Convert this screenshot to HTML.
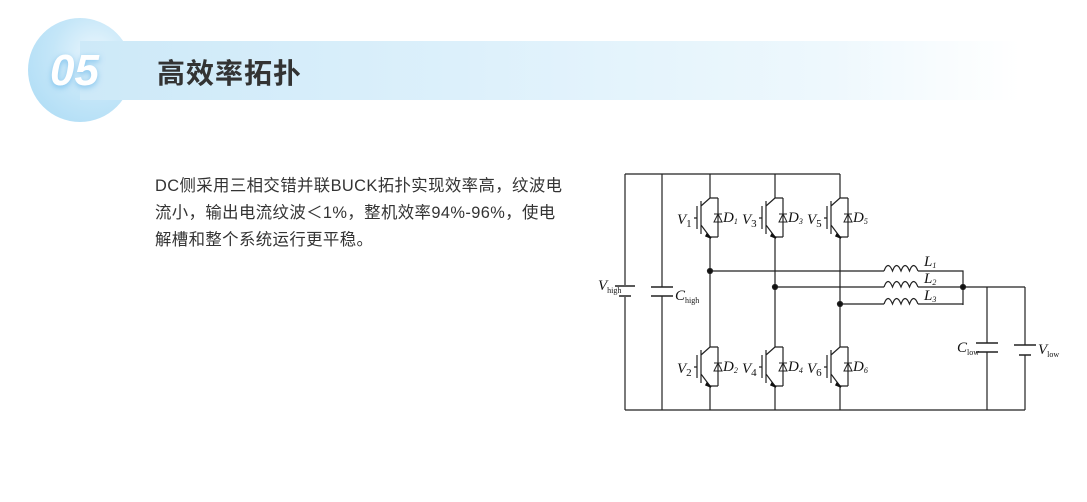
<!DOCTYPE html>
<html><head><meta charset="utf-8"><style>
body{margin:0;width:1087px;height:502px;background:#fff;position:relative;overflow:hidden;font-family:"Liberation Sans","Noto Sans CJK SC",sans-serif}
.circle{position:absolute;left:28px;top:18px;width:104px;height:104px;border-radius:50%;background:radial-gradient(circle at 65% 35%,#eaf6fd 0%,#c4e6f8 45%,#a9daf5 100%)}
.bar{position:absolute;left:80px;top:41px;width:940px;height:59px;background:linear-gradient(90deg,#cde9f8 0%,#dcf0fb 40%,#eef8fd 80%,rgba(255,255,255,0) 100%)}
.num{position:absolute;left:50px;top:46px;font:italic bold 44px "Liberation Sans",sans-serif;color:#fff;text-shadow:0 2px 6px rgba(80,170,230,.6)}
.title{position:absolute;left:157px;top:52px;font-size:28px;font-weight:bold;color:#333;letter-spacing:1px}
.text{position:absolute;left:155px;top:173px;font-size:16.4px;line-height:27px;color:#333;white-space:nowrap;letter-spacing:0.4px}
svg{position:absolute;left:0;top:0}
svg text{font-family:"Liberation Serif",serif;font-style:italic;fill:#111}
</style></head><body>
<div class="circle"></div><div class="bar"></div>
<div class="num">05</div>
<div class="title">高效率拓扑</div>
<div class="text">DC侧采用三相交错并联BUCK拓扑实现效率高，纹波电<br>流小，输出电流纹波＜1%，整机效率94%-96%，使电<br>解槽和整个系统运行更平稳。</div>
<svg width="1087" height="502" stroke="#222" stroke-width="1.2" fill="none">
<defs>
<g id="ig">
<path d="M0,0 H8 M0,0 L-9,8 M-9,3 V36 M-13,8 V31 M-13,20 H-16 M-9,27 L0,39 H8 M8,0 V39"/>
<path d="M-3,36 L1,40 L-4,38 Z" fill="#111" stroke="#111" stroke-width="1.5"/>
<path d="M4,24 L12,24 L8,16 Z M4,16 H12" stroke-width="1"/>
</g>
</defs>
<path d="M625,174 H840 M625,410 H1025 M625,174 V285 M625,297 V410 M662,174 V287 M662,296 V410"/>
<path d="M615,286 H635 M619,296 H631" stroke-width="1.5"/>
<path d="M651,287 H673 M651,296 H673" stroke-width="1.5"/>
<path d="M710,174 V198 M710,237 V347 M710,386 V410"/>
<path d="M775,174 V198 M775,237 V347 M775,386 V410"/>
<path d="M840,174 V198 M840,237 V347 M840,386 V410"/>
<use href="#ig" x="710" y="198"/><use href="#ig" x="775" y="198"/><use href="#ig" x="840" y="198"/>
<use href="#ig" x="710" y="347"/><use href="#ig" x="775" y="347"/><use href="#ig" x="840" y="347"/>
<path d="M710,271 H884 M918,271 H963 V305 M775,287 H884 M918,287 H1025 M840,304 H884 M918,304 H963"/>
<path d="M884,271 q4,-11 8.5,0 q4,-11 8.5,0 q4,-11 8.5,0 q4,-11 8.5,0 M884,287 q4,-11 8.5,0 q4,-11 8.5,0 q4,-11 8.5,0 q4,-11 8.5,0 M884,304 q4,-11 8.5,0 q4,-11 8.5,0 q4,-11 8.5,0 q4,-11 8.5,0"/>
<circle cx="710" cy="271" r="2.5" fill="#111"/><circle cx="775" cy="287" r="2.5" fill="#111"/><circle cx="840" cy="304" r="2.5" fill="#111"/><circle cx="963" cy="287" r="2.5" fill="#111"/>
<path d="M987,287 V343 M987,352 V410 M1025,287 V345 M1025,355 V410"/>
<path d="M976,343 H998 M976,352 H998" stroke-width="1.5"/>
<path d="M1014,345 H1036 M1019,355 H1031" stroke-width="1.5"/>
<g stroke="none" font-size="15">
<text x="677" y="224">V<tspan font-size="11" dy="3" font-style="normal">1</tspan></text>
<text x="742" y="224">V<tspan font-size="11" dy="3" font-style="normal">3</tspan></text>
<text x="807" y="224">V<tspan font-size="11" dy="3" font-style="normal">5</tspan></text>
<text x="723" y="222">D<tspan font-size="8" dy="2">1</tspan></text>
<text x="788" y="222">D<tspan font-size="8" dy="2">3</tspan></text>
<text x="853" y="222">D<tspan font-size="8" dy="2">5</tspan></text>
<text x="677" y="373">V<tspan font-size="11" dy="3" font-style="normal">2</tspan></text>
<text x="742" y="373">V<tspan font-size="11" dy="3" font-style="normal">4</tspan></text>
<text x="807" y="373">V<tspan font-size="11" dy="3" font-style="normal">6</tspan></text>
<text x="723" y="371">D<tspan font-size="8" dy="2">2</tspan></text>
<text x="788" y="371">D<tspan font-size="8" dy="2">4</tspan></text>
<text x="853" y="371">D<tspan font-size="8" dy="2">6</tspan></text>
<text x="924" y="266">L<tspan font-size="8" dy="2">1</tspan></text>
<text x="924" y="283">L<tspan font-size="8" dy="2">2</tspan></text>
<text x="924" y="300">L<tspan font-size="8" dy="2">3</tspan></text>
<text x="598" y="290">V<tspan font-size="8" dy="3" font-style="normal">high</tspan></text>
<text x="675" y="300">C<tspan font-size="8" dy="3" font-style="normal">high</tspan></text>
<text x="957" y="352">C<tspan font-size="8" dy="3" font-style="normal">low</tspan></text>
<text x="1038" y="354">V<tspan font-size="8" dy="3" font-style="normal">low</tspan></text>
</g>
</svg>
</body></html>
